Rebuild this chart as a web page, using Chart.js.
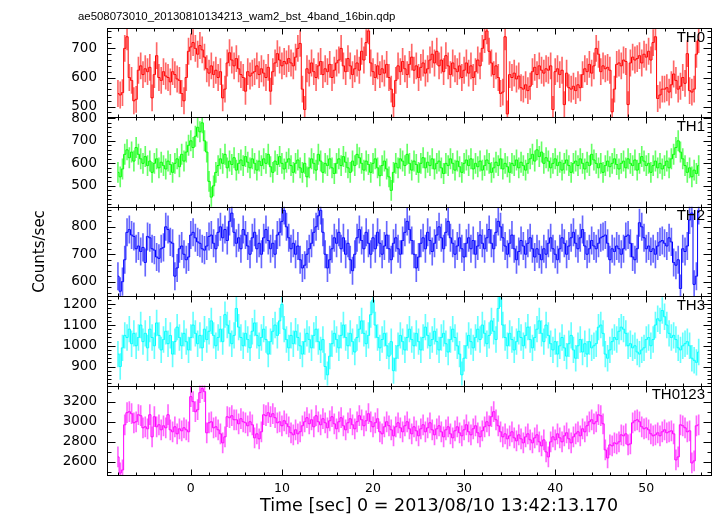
<!DOCTYPE html>
<html>
<head>
<meta charset="utf-8">
<script src="https://cdn.jsdelivr.net/npm/chart.js@4.4.1/dist/chart.umd.min.js"></script>
<style>
  html, body { margin: 0; padding: 0; background: #fff; }
  #wrap { width: 717px; height: 516px; }
</style>
</head>
<body>
<div id="wrap"><canvas id="lc"></canvas></div>
<script>
// light curve, 0.25 s bins, counts/sec per band
const fileTitle = "ae508073010_20130810134213_wam2_bst_4band_16bin.qdp";
const xTitle = "Time [sec] 0 = 2013/08/10 13:42:13.170";
const panelNames = ["TH0", "TH1", "TH2", "TH3", "TH0123"];
const panelColors = ["#ff0000", "#00ff00", "#0000ff", "#00ffff", "#ff00ff"];
const tStart = -8;
const binSec = 0.25;

const th0 = [
  545, 540, 548, 700, 740, 600, 590, 520, 525, 625, 640, 610, 630, 620, 635, 530,
  610, 675, 600, 590, 620, 605, 600, 585, 620, 610, 595, 590, 545, 520, 600, 690,
  705, 720, 700, 680, 710, 695, 670, 630, 615, 640, 610, 625, 600, 620, 530, 560,
  650, 685, 660, 640, 665, 630, 610, 600, 553, 620, 605, 615, 620, 640, 610, 630,
  615, 600, 635, 553, 620, 650, 682, 660, 640, 655, 647, 665, 650, 640, 670, 700,
  717, 560, 490, 630, 615, 650, 620, 600, 640, 655, 610, 630, 620, 645, 600, 625,
  650, 660, 700, 640, 620, 665, 640, 610, 630, 650, 625, 690, 660, 720, 760, 650,
  620, 600, 640, 610, 630, 615, 645, 600, 560, 500, 590, 640, 620, 655, 630, 610,
  645, 670, 625, 640, 600, 635, 650, 615, 630, 660, 680, 650, 690, 640, 660, 620,
  675, 640, 610, 650, 630, 620, 640, 600, 625, 650, 615, 640, 600, 620, 660, 640,
  700, 730, 760, 690, 650, 610, 640, 600, 545, 550, 740, 475, 610, 600, 615, 595,
  605, 565, 560, 575, 555, 570, 620, 635, 610, 640, 625, 615, 630, 625, 640, 490,
  620, 630, 610, 625, 507, 615, 565, 560, 570, 555, 575, 565, 610, 630, 620, 645,
  615, 640, 700, 680, 620, 640, 630, 635, 625, 482, 560, 645, 650, 640, 660, 655,
  507, 650, 670, 660, 665, 675, 650, 680, 670, 690, 660, 720, 740, 528, 540, 560,
  560, 565, 550, 575, 612, 590, 560, 570, 600, 580, 682, 555, 550, 560, 680, 730
];
const th1 = [
  560, 540, 575, 640, 660, 625, 650, 610, 670, 640, 620, 600, 630, 590, 610, 560,
  600, 620, 580, 605, 590, 575, 610, 595, 560, 600, 620, 585, 640, 610, 650, 680,
  700, 670, 720, 760, 740, 780, 700, 650, 520, 450, 500, 560, 590, 620, 600, 640,
  580, 610, 595, 625, 570, 600, 615, 590, 630, 605, 580, 620, 600, 570, 610, 590,
  620, 600, 640, 585, 560, 610, 595, 630, 600, 575, 605, 620, 590, 560, 600, 615,
  580, 560, 600, 540, 580, 620, 600, 570, 640, 610, 560, 600, 590, 620, 580, 555,
  600, 620, 590, 630, 605, 580, 560, 610, 590, 640, 625, 600, 570, 610, 595, 560,
  600, 620, 580, 545, 590, 610, 575, 540, 480, 560, 600, 580, 620, 610, 590, 640,
  600, 570, 610, 595, 560, 600, 625, 580, 605, 590, 620, 575, 600, 610, 580, 555,
  600, 590, 620, 600, 570, 610, 585, 560, 600, 615, 590, 620, 575, 600, 585, 610,
  570, 590, 615, 600, 560, 580, 605, 590, 620, 575, 600, 585, 560, 600, 590, 615,
  580, 605, 590, 570, 600, 620, 640, 610, 660, 630, 650, 600, 625, 610, 580, 600,
  620, 590, 605, 570, 600, 615, 590, 560, 600, 610, 590, 620, 600, 575, 605, 590,
  640, 615, 600, 580, 600, 560, 590, 610, 585, 600, 620, 595, 575, 600, 610, 580,
  620, 600, 590, 615, 570, 600, 630, 610, 590, 600, 560, 590, 610, 580, 600, 575,
  590, 610, 580, 620, 640, 670, 700, 650, 620, 590, 560, 580, 540, 570, 555, 590
];
const th2 = [
  620, 565, 600, 680, 780, 790, 770, 765, 720, 730, 710, 725, 670, 765, 760, 720,
  715, 690, 685, 720, 725, 800, 790, 745, 740, 620, 650, 720, 730, 700, 680, 690,
  770, 780, 760, 745, 740, 720, 715, 730, 765, 770, 740, 720, 780, 800, 760, 790,
  750, 820, 850, 780, 740, 760, 720, 790, 770, 730, 700, 760, 780, 720, 740, 700,
  760, 790, 750, 720, 740, 700, 770, 780, 820, 860, 800, 760, 720, 740, 700, 730,
  680, 650, 660, 700, 720, 740, 780, 800, 840, 860, 780, 700, 650, 680, 720, 760,
  740, 780, 720, 760, 700, 740, 680, 640, 700, 760, 790, 750, 720, 780, 740, 700,
  760, 720, 780, 740, 700, 730, 770, 720, 680, 740, 760, 720, 700, 750, 780, 820,
  790, 750, 700, 650, 690, 740, 760, 720, 780, 750, 710, 740, 770, 800, 760, 720,
  780, 820, 760, 740, 700, 730, 760, 720, 690, 740, 760, 720, 750, 700, 730, 770,
  740, 720, 760, 790, 740, 720, 780, 820, 800, 760, 730, 700, 740, 770, 720, 680,
  710, 750, 730, 700, 740, 760, 720, 690, 720, 700, 680, 720, 700, 740, 760, 720,
  700, 680, 720, 760, 740, 700, 730, 760, 780, 740, 720, 760, 790, 730, 700, 720,
  750, 730, 720, 740, 760, 765, 770, 740, 680, 720, 710, 730, 720, 700, 720, 765,
  770, 740, 690, 680, 720, 815, 800, 760, 720, 730, 710, 720, 700, 730, 745, 750,
  740, 730, 760, 745, 670, 660, 680, 575, 720, 710, 730, 825, 850, 590, 620, 860
];
const th3 = [
  960, 900, 990, 1050, 1040, 1080, 1010, 1060, 1000, 1040, 1100, 1020, 1060, 990, 1080, 1040,
  1000, 1110, 1050, 980, 1030, 1070, 1010, 1050, 960, 1020, 1090, 1040, 1000, 1060, 1020, 980,
  1040, 1100, 1060, 1010, 1050, 990, 1080, 1030, 1070, 1120, 1050, 1000, 1040, 1080, 1020, 1150,
  1100, 1060, 1010, 1050, 1180, 1090, 1040, 1000, 1060, 1030, 990, 1070, 1110, 1050, 1000, 1040,
  1080, 1030, 960, 1020, 1070, 1100, 1050, 1120, 1200, 1080, 1030, 990, 1050, 1010, 1070, 1040,
  1000, 960, 1020, 1060, 1030, 990, 1050, 1080, 1020, 980, 1030, 900, 860, 950, 1010, 1060,
  1030, 990, 1050, 1100, 1040, 1000, 1060, 1020, 970, 1040, 1080, 1120, 1060, 1010, 1050, 1150,
  1220, 1100, 1040, 990, 1030, 1060, 1000, 950, 1020, 880, 940, 1000, 1050, 1020, 980, 1040,
  1080, 1030, 1000, 1060, 1020, 980, 1040, 1090, 1050, 1000, 1030, 1070, 1020, 980, 1040, 1060,
  1010, 970, 1030, 1080, 1040, 1000, 960, 860, 940, 1000, 1050, 1020, 990, 1040, 1080, 1030,
  1100, 1060, 1010, 1050, 1120, 1070, 1030, 1180, 1250, 1100, 1040, 1000, 1060, 1030, 980, 1020,
  1070, 1040, 1000, 1050, 1090, 1030, 990, 1040, 1080, 1120, 1060, 1020, 1100, 1050, 1010, 980,
  1020, 960, 1000, 1040, 990, 950, 1010, 1050, 980, 940, 1000, 1030, 970, 1010, 960, 1020,
  990, 1000, 1010, 1090, 1100, 1060, 960, 940, 980, 1020, 1040, 1030, 1070, 1090, 1080, 1060,
  1000, 1010, 990, 1000, 970, 960, 980, 990, 1030, 1040, 1000, 1030, 1100, 1130, 1120, 1170,
  1140, 1100, 1060, 1040, 1050, 1030, 990, 980, 1000, 1010, 1020, 1000, 940, 930, 920, 970
];
const th0123 = [
  2650, 2490, 2520, 2970, 3090, 3100, 3080, 2990, 3000, 3070, 3060, 2940, 2950, 2930, 3070, 2850,
  3050, 2950, 2970, 2920, 2960, 2940, 3070, 2920, 2900, 2950, 2880, 2930, 2910, 2940, 2920, 2900,
  3250, 3200, 3100, 3120, 3290, 3330, 3300, 2890, 2990, 3000, 2940, 2950, 2920, 2880, 2790, 2850,
  3050, 3040, 3060, 3020, 3020, 2980, 3030, 3000, 2990, 2960, 3000, 2970, 2840, 2880, 2830, 2900,
  3070, 3060, 3090, 3050, 3080, 3040, 2990, 3000, 2960, 3010, 2980, 2950, 2890, 2870, 2920, 2880,
  2900, 2960, 3000, 3040, 2980, 3020, 2950, 3060, 3000, 2970, 3030, 2990, 2940, 3010, 3050, 2980,
  2930, 3000, 3040, 2960, 2920, 2990, 3030, 2970, 2930, 3000, 3060, 3020, 2960, 3010, 3080, 3000,
  2950, 2990, 3030, 2900, 2880, 2950, 3000, 2960, 2920, 2860, 2950, 2990, 2940, 2900, 2960, 3000,
  2930, 2880, 2950, 2910, 2860, 2930, 2970, 2900, 2940, 2990, 2920, 2870, 2930, 2960, 2900, 2850,
  2920, 2950, 2880, 2840, 2910, 2950, 2890, 2860, 2920, 2970, 2900, 2870, 2930, 2960, 2890, 2850,
  2910, 2950, 3000, 2960, 3050, 3100, 3020, 2960, 2900, 2850, 2880, 2830, 2860, 2900, 2840, 2810,
  2870, 2830, 2790, 2850, 2880, 2820, 2790, 2840, 2870, 2800, 2760, 2820, 2700, 2650, 2800, 2850,
  2820, 2880, 2840, 2800, 2860, 2890, 2830, 2790, 2850, 2880, 2900, 2860, 2930, 2900, 2960, 3000,
  3020, 2980, 3000, 3070, 3060, 2980, 2720, 2640, 2770, 2760, 2790, 2780, 2800, 2870, 2860, 2880,
  2770, 2780, 2990, 3010, 3020, 3000, 2950, 2930, 2940, 2920, 2880, 2860, 2870, 2890, 2860, 2900,
  2920, 2890, 2900, 2910, 2880, 2620, 2650, 2970, 2960, 2940, 2900, 2910, 2590, 2610, 2960, 2970
];
const panelData = [th0, th1, th2, th3, th0123];

// half length of the error bars
const errHalf = [45, 45, 50, 62, 100];
// axis ranges and tick steps for each panel
const yMins = [463, 407, 547, 808, 2470];
const yMaxs = [770, 804, 873, 1239, 3360];
const yMajor = [100, 100, 100, 100, 200];
const yMinor = [20, 20, 20, 20, 100];
const xMin = -9.2, xMax = 57.1, xMajor = 10, xMinor = 2;

const axisFont = "'DejaVu Sans', Verdana, sans-serif";
Chart.defaults.font.family = "'Liberation Sans', Arial, sans-serif";
Chart.defaults.color = "#000";

const datasets = [];
const scales = {
  x: {
    type: "linear", min: xMin, max: xMax, offset: false,
    grid: { display: false, drawTicks: false, offset: false },
    border: { display: false },
    ticks: { stepSize: xMajor, includeBounds: false, padding: 6, maxRotation: 0,
             font: { family: axisFont, size: 12.5 }, callback: v => String(v) },
    afterFit: s => { s.height = 41; }
  }
};

panelData.forEach((vals, k) => {
  const id = "y" + k;
  const times = vals.map((_, i) => tStart + i * binSec);
  datasets.push({
    type: "line", label: panelNames[k], yAxisID: id, order: 0,
    data: vals.map((v, i) => ({ x: times[i], y: v })),
    borderColor: panelColors[k], borderWidth: 1, pointRadius: 0,
    stepped: "middle", fill: false
  });
  datasets.push({
    type: "bar", label: panelNames[k] + " err", yAxisID: id, order: 1,
    data: vals.map((v, i) => ({ x: times[i], y: [v - errHalf[k], v + errHalf[k]] })),
    backgroundColor: panelColors[k] + "99", borderWidth: 0,
    barThickness: 1, grouped: false
  });
});

// stacked axes are placed top-down from the last one added, so add them in reverse
for (let k = panelData.length - 1; k >= 0; k--) {
  scales["y" + k] = {
    type: "linear", position: "left", stack: "panels", stackWeight: 1, offset: false,
    min: yMins[k], max: yMaxs[k],
    grid: { display: false, drawTicks: false },
    border: { display: false },
    ticks: { autoSkip: false, padding: 10, font: { family: axisFont, size: 13.5 },
             callback: v => String(v) },
    afterBuildTicks: s => {
      const t = [];
      for (let v = Math.ceil(yMins[k] / yMajor[k]) * yMajor[k]; v <= yMaxs[k]; v += yMajor[k]) t.push({ value: v });
      s.ticks = t;
    },
    title: { display: k === 2, text: "Counts/sec", font: { family: axisFont, size: 15 },
             padding: { top: 31, bottom: 0 } },
    afterFit: s => { s.width = 107; }
  };
}

// panel frames, inward ticks on all sides, band names, file name and time label
const framePlugin = {
  id: "frame",
  afterDatasetsDraw(chart) {
    const ctx = chart.ctx, a = chart.chartArea, xs = chart.scales.x;
    const L = Math.round(a.left) + 0.5, R = Math.round(a.right) + 0.5;
    ctx.save();
    ctx.strokeStyle = "#000";
    ctx.lineWidth = 1;
    panelNames.forEach((name, k) => {
      const ys = chart.scales["y" + k];
      const top = Math.round(ys.top) + 0.5, bot = Math.round(ys.bottom) + 0.5;
      ctx.strokeRect(L, top, R - L, bot - top);
      ctx.beginPath();
      for (let v = Math.ceil(xMin / xMinor) * xMinor; v <= xMax; v += xMinor) {
        const px = Math.round(xs.getPixelForValue(v)) + 0.5;
        const len = v % xMajor === 0 ? 6 : 3;
        ctx.moveTo(px, top); ctx.lineTo(px, top + len);
        ctx.moveTo(px, bot); ctx.lineTo(px, bot - len);
      }
      for (let v = Math.ceil(yMins[k] / yMinor[k]) * yMinor[k]; v <= yMaxs[k]; v += yMinor[k]) {
        const py = Math.round(ys.getPixelForValue(v)) + 0.5;
        const len = v % yMajor[k] === 0 ? 8 : 4;
        ctx.moveTo(L, py); ctx.lineTo(L + len, py);
        ctx.moveTo(R, py); ctx.lineTo(R - len, py);
      }
      ctx.stroke();
      ctx.fillStyle = "#000";
      ctx.font = "15px 'Liberation Sans', Arial, sans-serif";
      ctx.textAlign = "right";
      ctx.textBaseline = "top";
      ctx.fillText(name, a.right - 6, ys.top + 2);
    });
    ctx.textAlign = "left";
    ctx.textBaseline = "middle";
    ctx.font = "11.4px 'Liberation Sans', Arial, sans-serif";
    ctx.fillText(fileTitle, 78, 17);
    // the time label sits right of the plot centre in the original
    ctx.textAlign = "center";
    ctx.font = "17.5px " + axisFont;
    ctx.fillText(xTitle, 439, 506);
    ctx.restore();
  }
};

new Chart(document.getElementById("lc"), {
  type: "line",
  data: { datasets: datasets },
  options: {
    responsive: true,
    maintainAspectRatio: false,
    animation: false,
    layout: { padding: { top: 28, right: 6, left: 0, bottom: 0 } },
    plugins: { legend: { display: false }, tooltip: { enabled: false } },
    scales: scales
  },
  plugins: [framePlugin]
});
</script>
</body>
</html>
